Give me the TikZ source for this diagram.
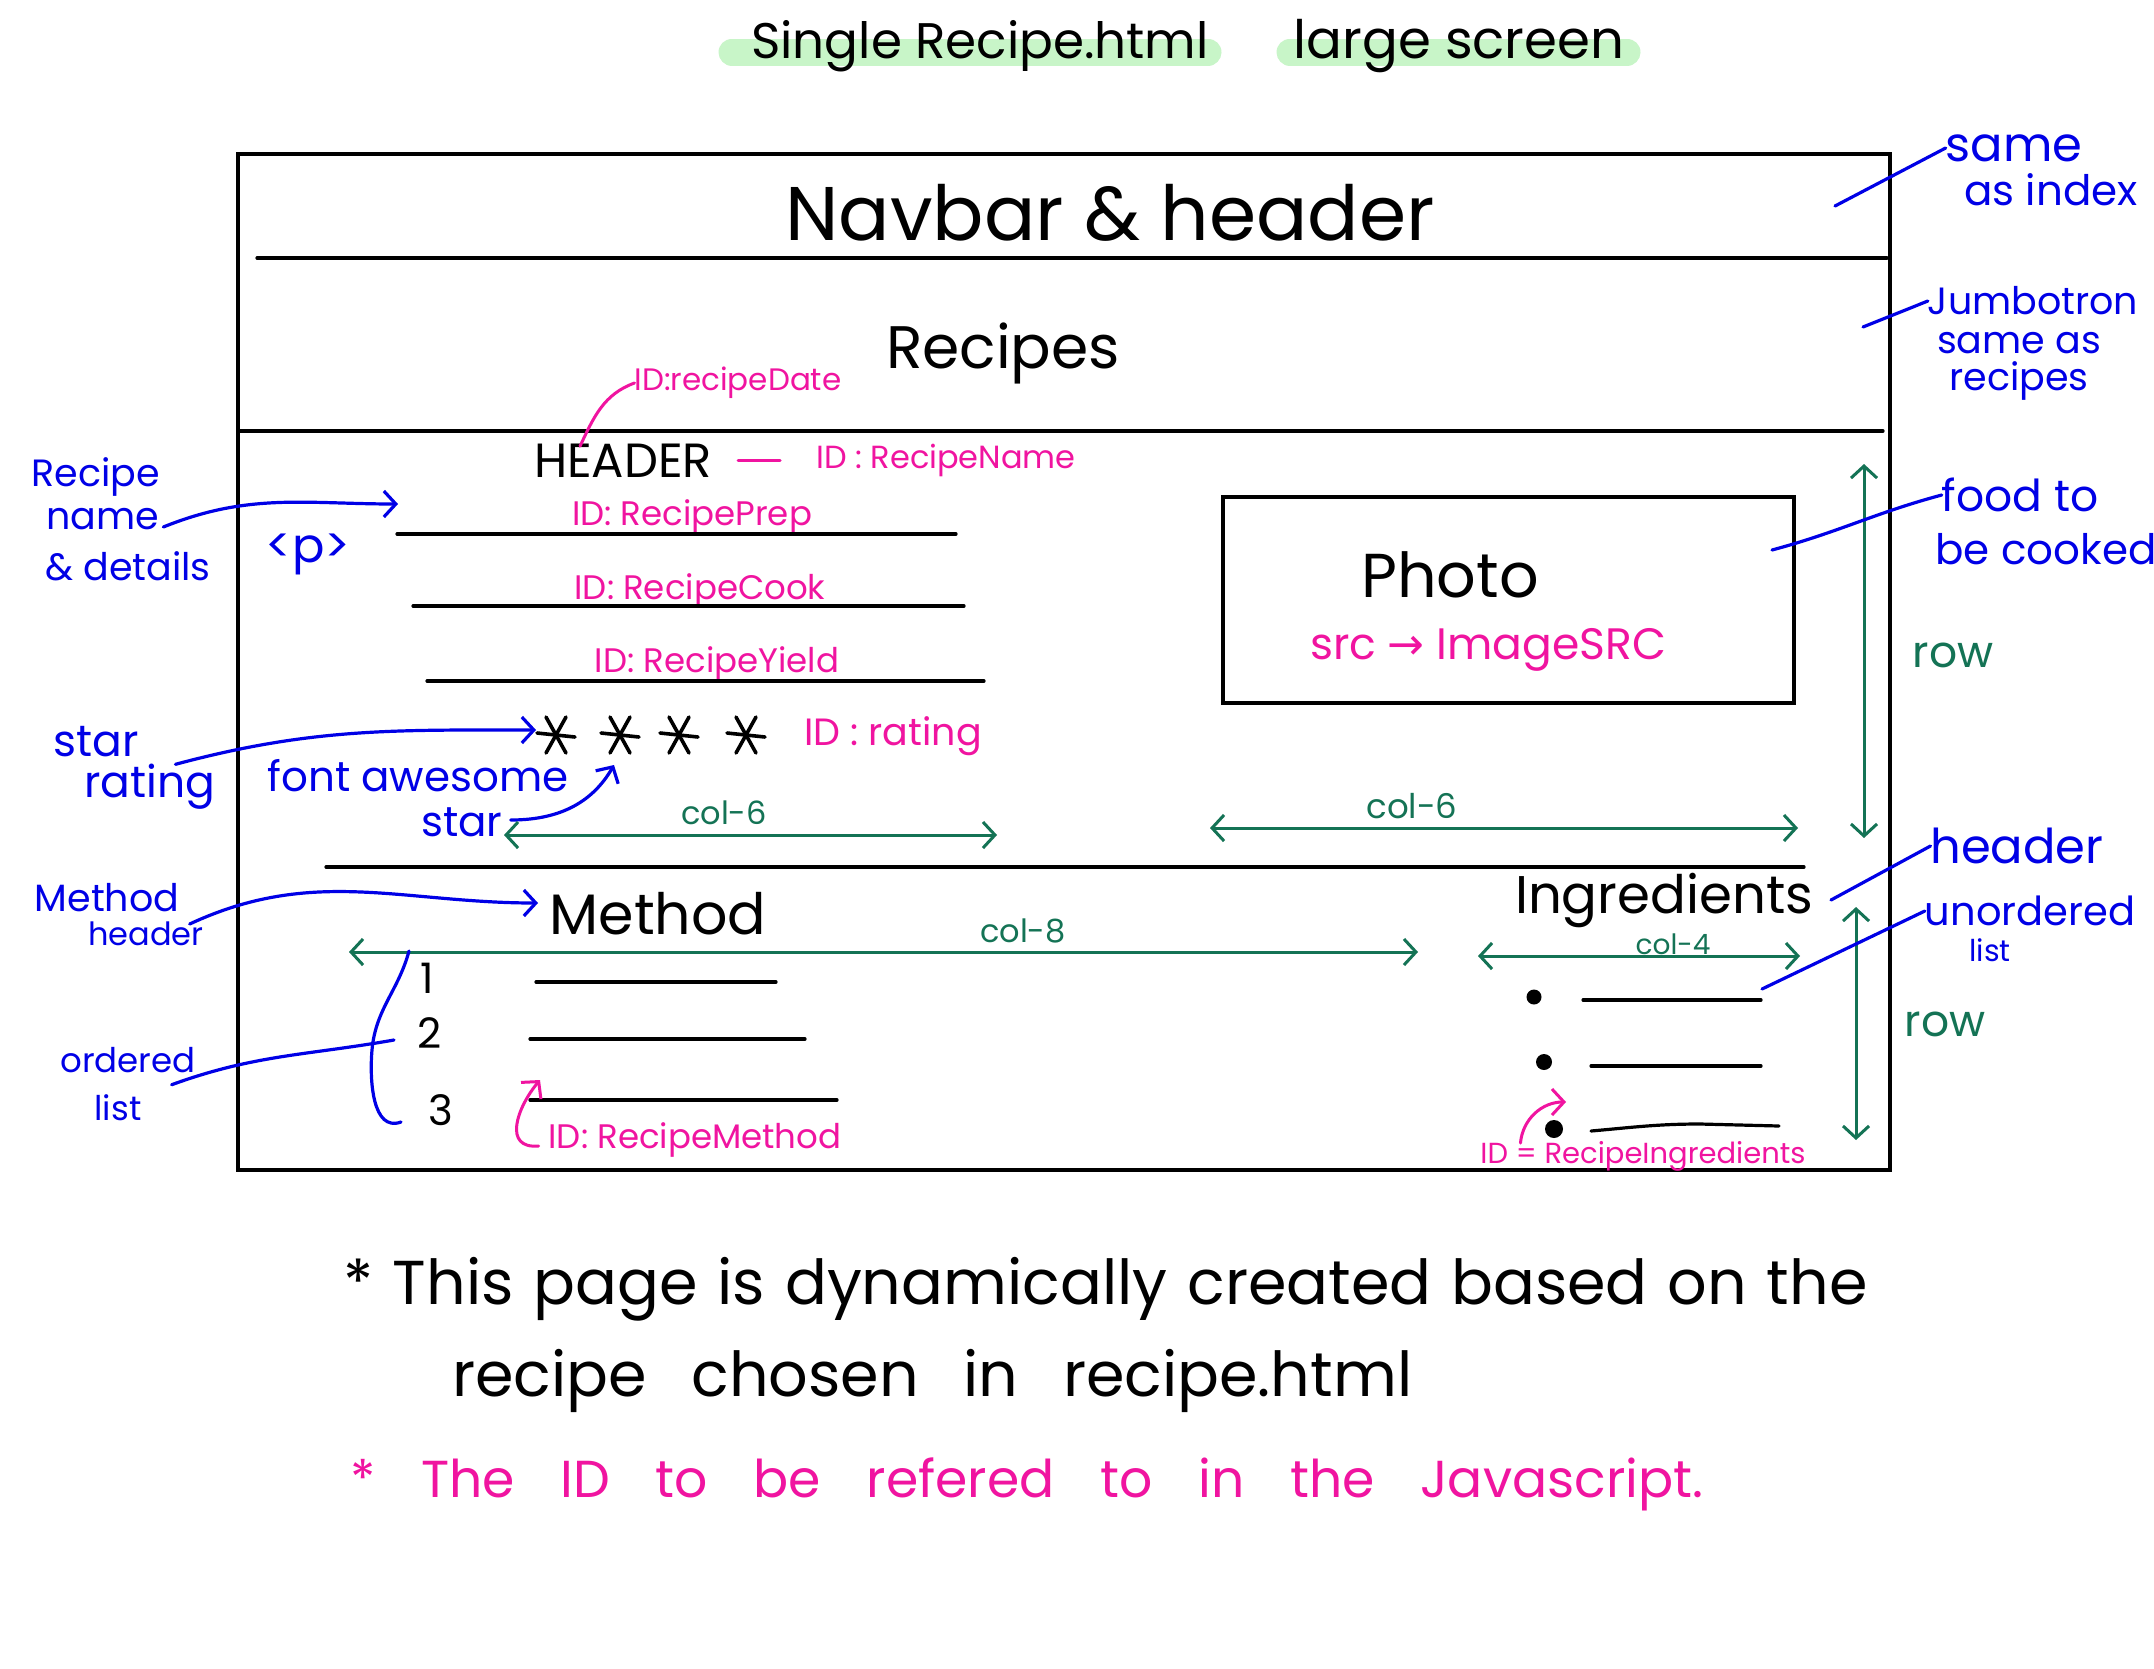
\documentclass[tikz,border=0pt]{standalone}
\usepackage{fontspec}
\setmainfont{Poppins}
\newfontfamily\djv{DejaVu Sans}
\usetikzlibrary{arrows.meta}
\definecolor{annblue}{RGB}{0,0,230}
\definecolor{idpink}{RGB}{240,20,160}
\definecolor{colgreen}{RGB}{20,115,85}
\definecolor{hlgreen}{RGB}{200,245,200}
\newcommand{\fsz}[1]{\fontsize{#1}{#1}\selectfont}
\begin{document}
\begin{tikzpicture}[x=1pt,y=-1pt,
  every node/.style={inner sep=0pt, outer sep=0pt},
  >={Straight Barb[length=12pt,width=26pt]},
  wire/.style={black, line width=3.2pt, line cap=round},
  ann/.style={annblue, line width=3.2pt, line cap=round},
  idl/.style={idpink, line width=3pt, line cap=round},
  grn/.style={colgreen, line width=3pt, line cap=round},
  blk/.style={text=black},
  blu/.style={text=annblue},
  pnk/.style={text=idpink},
  gtx/.style={text=colgreen},
  hl/.style={hlgreen, line width=27pt, line cap=round}
]
\useasboundingbox (0,0) rectangle (2154,1668);
\fill[white] (0,0) rectangle (2154,1668);

% ---- title
\draw[hl] (732,52) -- (1208,52);
\draw[hl] (1290,52) -- (1627,52);
\node[blk, font=\fsz{50}] (title1) at (980,46) {Single Recipe.html};
\node[blk, font=\fsz{53}] (title2) at (1459,46) {large screen};

% ---- main frame
\draw[wire] (238,154) rectangle (1890,1170);
\draw[wire] (257,258) -- (1887,258);
\draw[wire] (238,431) -- (1883,431);
\draw[wire] (326,867) -- (1804,867);

\node[blk, font=\fsz{76}] (navbar) at (1110,213) {Navbar \& header};
\node[blk, font=\fsz{60}] (recipes) at (1003,353) {Recipes};

% ---- recipe header area
\node[blk, font=\fsz{48}] (hdr) at (623,461) {HEADER};
\node[pnk, font=\fsz{32}] (rname) at (946,460) {ID : RecipeName};
\coordinate (dashA) at (738,460);
\coordinate (dashB) at (780,460);
\draw[idl] (dashA) -- (dashB);
\node[pnk, font=\fsz{31}] (rdate) at (738,383) {ID:recipeDate};
\draw[idl] (hdr.north west) ++(46,2) coordinate (dateA) to[out=65,in=200] (rdate.west);

\node[pnk, font=\fsz{34}] (rprep) at (692,517) {ID: RecipePrep};
\draw[wire] (397,534) -- (956,534);
\node[pnk, font=\fsz{34}] (rcook) at (700,591) {ID: RecipeCook};
\draw[wire] (413,606) -- (964,606);
\node[pnk, font=\fsz{34}] (ryield) at (717,664) {ID: RecipeYield};
\draw[wire] (427,681) -- (984,681);

% stars
\foreach \sx/\nm in {556/s1,620/s2,679/s3,746/s4}{
  \coordinate (\nm) at (\sx,735);
  \draw[wire, line width=3.6pt] (\sx-19,733) -- (\sx+19,737);
  \draw[wire, line width=3.6pt] (\sx-10,717) -- (\sx+10,753);
  \draw[wire, line width=3.6pt] (\sx+10,717) -- (\sx-10,753);
}
\node[pnk, font=\fsz{38}] (rating) at (893,736) {ID : rating};

\node[blu, font=\fsz{42}] (fa1) at (418,776) {font awesome};
\node[blu, font=\fsz{42}] (fa2) at (462,822) {star};
\draw[ann,->] (fa2.east) ++(8,-2) coordinate (faA) to[out=0,in=-120] (614,765) coordinate (faB);

% col-6 arrows
\draw[grn,<->] (504,835) coordinate (c6aL) -- (997,835) coordinate (c6aR);
\node[gtx, font=\fsz{32}] (c6a) at (724,813) {col-6};
\draw[grn,<->] (1210,828) coordinate (c6bL) -- (1798,828) coordinate (c6bR);
\node[gtx, font=\fsz{34}] (c6b) at (1412,806) {col-6};

% photo
\node[draw, line width=3.2pt, minimum width=571pt, minimum height=206pt] (photo) at (1508.5,600) {};
\node[blk, font=\fsz{62}] (photot) at (1450,575) {Photo};
\node[pnk, font=\fsz{44}] (src) at (1488,650) {src {\djv →} ImageSRC};

% row arrows
\draw[grn,<->] (1864,464) coordinate (r1T) -- (1864,838) coordinate (r1B);
\node[gtx, font=\fsz{44}] (row1) at (1953,655) {row};
\draw[grn,<->] (1856,907) coordinate (r2T) -- (1856,1140) coordinate (r2B);
\node[gtx, font=\fsz{44}] (row2) at (1945,1024) {row};

% ---- method
\node[blk, font=\fsz{57}] (method) at (658,914) {Method};
\draw[grn,<->] (349,952) coordinate (c8L) -- (1418,952) coordinate (c8R);
\node[gtx, font=\fsz{32}] (c8) at (1023,931) {col-8};
\node[blk, font=\fsz{42}] (n1) at (427,978) {1};
\node[blk, font=\fsz{42}] (n2) at (430,1033) {2};
\node[blk, font=\fsz{42}] (n3) at (441,1110) {3};
\draw[wire] (536,982) -- (776,982);
\draw[wire] (530,1039) -- (805,1039);
\draw[wire] (530,1100) -- (837,1100);
\node[pnk, font=\fsz{34}] (rmeth) at (695,1140) {ID: RecipeMethod};
\draw[idl,->] (rmeth.west) ++(-10,6) coordinate (rmA) to[out=185,in=-130,looseness=1.4] (540,1080) coordinate (rmB);

% ---- ingredients
\node[blk, font=\fsz{53}] (ingr) at (1664,900) {Ingredients};
\draw[grn,<->] (1478,956) coordinate (c4L) -- (1800,956) coordinate (c4R);
\node[gtx, font=\fsz{28}] (c4) at (1673,944) {col-4};
\fill (1534,997) circle (7.5);
\fill (1544,1062) circle (8);
\fill (1554,1129) circle (9);
\draw[wire] (1583,1000) -- (1761,1000);
\draw[wire] (1591,1066) -- (1761,1066);
\draw[wire] (1591,1131) to[out=5,in=180] (1700,1124) -- (1779,1126);
\node[pnk, font=\fsz{29}] (ring) at (1643,1156) {ID = RecipeIngredients};
\draw[idl,->] (ring.north west) ++(40,2) coordinate (riA) to[out=85,in=180] (1566,1102) coordinate (riB);

% ---- right annotations
\node[blu, font=\fsz{48}] (same1) at (2014,148) {same};
\node[blu, font=\fsz{42}] (same2) at (2051,190) {as index};
\coordinate (saA) at (1835,206);
\draw[ann] (saA) -- (same1.west);

\node[blu, font=\fsz{38}] (jum1) at (2033,301) {Jumbotron};
\node[blu, font=\fsz{38}] (jum2) at (2019,343) {same as};
\node[blu, font=\fsz{38}] (jum3) at (2019,381) {recipes};
\coordinate (juA) at (1863,327);
\draw[ann] (juA) -- (jum1.west);

\node[blu, font=\fsz{44}] (food1) at (2020,495) {food to};
\node[blu, font=\fsz{42}] (food2) at (2046,549) {be cooked};
\coordinate (foA) at (1772,550);
\draw[ann] (foA) to[out=15,in=-165] (food1.west);

\node[blu, font=\fsz{48}] (ihdr) at (2017,846) {header};
\coordinate (ihA) at (1831,900);
\draw[ann] (ihA) -- (ihdr.west);

\node[blu, font=\fsz{40}] (ul1) at (2030,911) {unordered};
\node[blu, font=\fsz{30}] (ul2) at (1990,950) {list};
\coordinate (ulA) at (1762,989);
\draw[ann] (ulA) -- (ul1.west);

% ---- left annotations
\node[blu, font=\fsz{38}] (rn1) at (96,477) {Recipe};
\node[blu, font=\fsz{38}] (rn2) at (103,519) {name};
\node[blu, font=\fsz{38}] (rn3) at (128,566) {\& details};
\node[blu, font=\fsz{48}] (ptag) at (308,554) {<p>};
\draw[ann,->] (rn2.east) ++(4,8) coordinate (rnA) to[out=22,in=180] (398,504) coordinate (rnB);

\node[blu, font=\fsz{44}] (sr1) at (96,742) {star};
\node[blu, font=\fsz{44}] (sr2) at (150,787) {rating};
\draw[ann,->] (sr2.north east) ++(-40,0) coordinate (srA) to[out=15,in=180] (536,730) coordinate (srB);

\node[blu, font=\fsz{38}] (mh1) at (107,898) {Method};
\node[blu, font=\fsz{32}] (mh2) at (146,934) {header};
\draw[ann,->] (mh2.north east) ++(-14,2) coordinate (mhA) to[out=25,in=180] (538,903) coordinate (mhB);

\node[blu, font=\fsz{34}] (ol1) at (128,1060) {ordered};
\node[blu, font=\fsz{34}] (ol2) at (118,1108) {list};
\draw[ann] (ol1.south east) ++(-24,12) coordinate (olA) to[out=20,in=-170] (394,1040) coordinate (olB);
\coordinate (brT) at (409,951);
\coordinate (brB) at (401,1122);
\draw[ann] (brT) to[out=-105,in=85] (372,1050) to[out=-95,in=-160] (brB);

% ---- bottom notes
\node[blk, font={\fsz{62}\spaceskip=0.32em\relax}, anchor=west] (note1) at (343,1289) {* This page is dynamically created based on the};
\node[blk, font={\fsz{62}\spaceskip=0.72em\relax}, anchor=west] (note2) at (452,1381) {recipe chosen in recipe.html};
\node[pnk, font={\fsz{52}\spaceskip=0.88em\relax}, anchor=west] (note3) at (350,1484) {* The ID to be refered to in the Javascript.};
\end{tikzpicture}
\end{document}
